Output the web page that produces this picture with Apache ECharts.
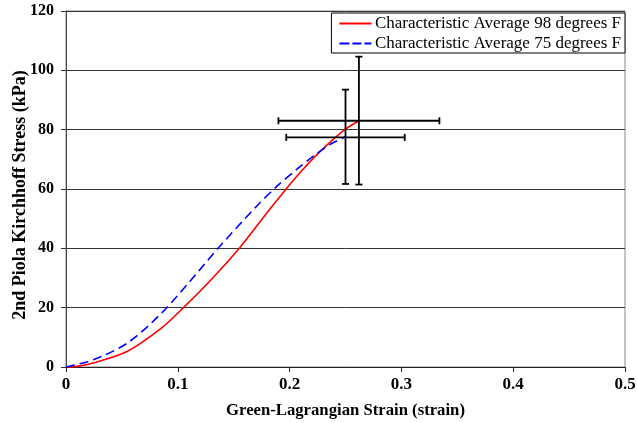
<!DOCTYPE html>
<html>
<head>
<meta charset="utf-8">
<script src="https://cdn.jsdelivr.net/npm/echarts@6/dist/echarts.min.js"></script>
<style>html,body{margin:0;padding:0;background:#fff}#c{width:637px;height:423px}</style>
</head>
<body>
<div id="c"></div>
<script>
var seriesNames = ['Characteristic Average 98 degrees F', 'Characteristic Average 75 degrees F'];
var red98 = [[0,0],[0.01,0.2],[0.025,1.4],[0.055,5.3],[0.085,13.0],[0.105,20],[0.13,29.5],[0.155,40],[0.181,52.6],[0.196,59.6],[0.209,65.4],[0.224,71.4],[0.239,76.7],[0.2496,80.1],[0.262,83]];
var blue75 = [[0,0],[0.025,2.5],[0.055,8.1],[0.084,17.6],[0.11,28.5],[0.136,40],[0.169,53.6],[0.188,60.7],[0.206,66.5],[0.221,71],[0.236,75],[0.25,77.6]];
// error bars: [xCenter, yCenter, xLow, xHigh, yLow, yHigh]
var errorBars = [
  [0.262, 83.0, 0.190, 0.334, 61.5, 104.6],
  [0.250, 77.4, 0.197, 0.303, 61.7, 93.5]
];
var xTicks = [0, 0.1, 0.2, 0.3, 0.4, 0.5];
var yTicks = [0, 20, 40, 60, 80, 100, 120];

var font = '"Liberation Serif","Times New Roman",serif';
var solidIcon = 'path://M0,0H32V2H0Z';
var dashIcon = 'path://M0,0H10V2H0ZM13,0H22V2H13ZM25,0H32V2H25Z';
var chart = echarts.init(document.getElementById('c'));
chart.setOption({
  animation: false,
  grid: {left: 66, right: 12, top: 11, bottom: 56, show: true, borderColor: '#888', borderWidth: 1, backgroundColor: 'transparent', containLabel: false, outerBoundsMode: 'none'},
  legend: {
    right: 12, top: 13,
    orient: 'vertical',
    data: [{name: seriesNames[0], icon: solidIcon}, {name: seriesNames[1], icon: dashIcon}],
    itemWidth: 33, itemHeight: 2, itemGap: 3,
    padding: [2, 4, 1, 8],
    borderColor: '#000', borderWidth: 1, backgroundColor: '#fff',
    textStyle: {fontFamily: font, fontSize: 17, color: '#000', padding: [0,0,0,-2], lineHeight: 16}
  },
  xAxis: {
    type: 'value', min: 0, max: 0.5, interval: 0.1,
    name: 'Green-Lagrangian Strain (strain)', nameLocation: 'middle', nameGap: 35, nameMoveOverlap: false,
    nameTextStyle: {fontFamily: font, fontSize: 16.7, fontWeight: 'bold', color: '#000'},
    axisLine: {show: true, onZero: false, lineStyle: {color: '#222', width: 1}},
    axisTick: {show: true, length: 5, lineStyle: {color: '#222'}},
    axisLabel: {fontFamily: font, fontSize: 17, fontWeight: 'bold', color: '#000', margin: 9},
    splitLine: {show: false}
  },
  yAxis: {
    type: 'value', min: 0, max: 120, interval: 20,
    name: '2nd Piola Kirchhoff Stress (kPa)', nameLocation: 'middle', nameGap: 37, nameMoveOverlap: false,
    nameTextStyle: {fontFamily: font, fontSize: 18, fontWeight: 'bold', color: '#000', padding: [0, 12, 0, 0]},
    axisLine: {show: true, lineStyle: {color: '#444', width: 1}},
    axisTick: {show: true, length: 5, lineStyle: {color: '#333'}},
    axisLabel: {fontFamily: font, fontSize: 16, fontWeight: 'bold', color: '#000', margin: 12},
    splitLine: {show: true, lineStyle: {color: '#333', width: 1}}
  },
  series: [
    {name: seriesNames[0], type: 'line', data: red98, smooth: 0.3, showSymbol: false, symbol: 'none',
     lineStyle: {color: '#ff0000', width: 1.6}, itemStyle: {color: '#ff0000'}, z: 3},
    {name: seriesNames[1], type: 'line', data: blue75, smooth: 0.3, showSymbol: false, symbol: 'none',
     lineStyle: {color: '#0000ff', width: 1.6, type: [9, 5]}, itemStyle: {color: '#0000ff'}, z: 3},
    {type: 'custom', name: 'err', data: errorBars, z: 4,
     renderItem: function(params, api){
       var xc = api.value(0), yc = api.value(1);
       var pL = api.coord([api.value(2), yc]), pR = api.coord([api.value(3), yc]);
       var pB = api.coord([xc, api.value(4)]), pT = api.coord([xc, api.value(5)]);
       var c = 3.5;
       var st = {stroke: '#000', lineWidth: 1.8};
       var lines = [
         [pL, pR], [[pL[0], pL[1]-c],[pL[0], pL[1]+c]], [[pR[0], pR[1]-c],[pR[0], pR[1]+c]],
         [pB, pT], [[pB[0]-c, pB[1]],[pB[0]+c, pB[1]]], [[pT[0]-c, pT[1]],[pT[0]+c, pT[1]]]
       ];
       return {type: 'group', children: lines.map(function(l){
         return {type: 'line', shape: {x1: l[0][0], y1: l[0][1], x2: l[1][0], y2: l[1][1]}, style: st};
       })};
     }}
  ]
});
</script>
</body>
</html>
